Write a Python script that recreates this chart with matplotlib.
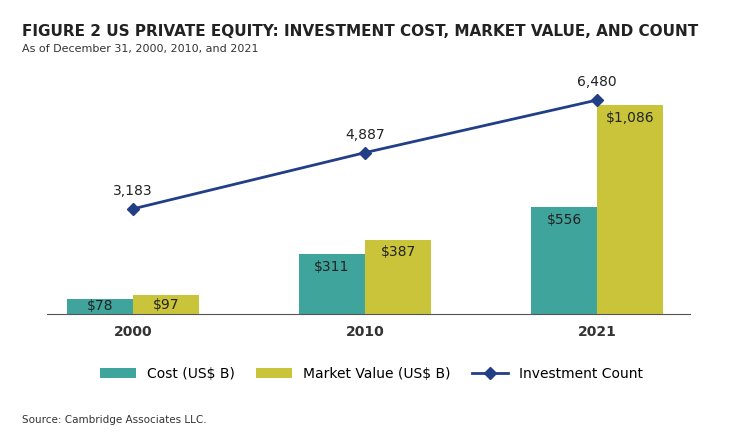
import numpy as np
import matplotlib.pyplot as plt

years = ['2000', '2010', '2021']
cost = [78, 311, 556]
market_value = [97, 387, 1086]
count = [3183, 4887, 6480]

teal = '#3fa59c'
olive = '#c9c43a'
navy = '#213e86'

fig = plt.figure(figsize=(7.43, 4.47), dpi=100)
ax = fig.add_axes([47/743, 1-314/447, (690-47)/743, (314-60)/447])
x = np.arange(len(years))
w = 0.285
ax.bar(x - w/2, cost, w, color=teal, label='Cost (US$ B)')
ax.bar(x + w/2, market_value, w, color=olive, label='Market Value (US$ B)')
ax.set_xlim(-0.37, 2.40)
ax.set_ylim(0, 1320)

def bar_label(xi, v):
    if v < 150:
        ax.text(xi, v / 2, f'${v:,}', ha='center', va='center', fontsize=10, color='#222222')
    else:
        ax.text(xi, v - 30, f'${v:,}', ha='center', va='top', fontsize=10, color='#222222')

for xi, c, m in zip(x, cost, market_value):
    bar_label(xi - w/2, c)
    bar_label(xi + w/2, m)
ax.set_xticks(x)
ax.set_xticklabels(years, fontsize=10, fontweight='bold', color='#333333')
ax.tick_params(axis='x', length=0, pad=8)
ax.set_yticks([])
for s in ['top', 'right', 'left']:
    ax.spines[s].set_visible(False)
ax.spines['bottom'].set_color('#555555')

ax2 = ax.twinx()
ax2.plot(x, count, color=navy, lw=2, marker='D', ms=6, label='Investment Count')
ax2.set_ylim(0, 7692)
ax2.set_yticks([])
for s in ['top', 'right', 'left', 'bottom']:
    ax2.spines[s].set_visible(False)
for xi, n in zip(x, count):
    ax2.text(xi, n + 320, f'{n:,}', ha='center', va='bottom', fontsize=10, color='#222222')

h1, l1 = ax.get_legend_handles_labels()
h2, l2 = ax2.get_legend_handles_labels()
fig.legend(h1 + h2, l1 + l2, loc='center', bbox_to_anchor=(0.5, 1-374/447), ncol=3,
           frameon=False, fontsize=10, handlelength=2.6, columnspacing=1.5)

fig.text(22/743, 1-31/447, 'FIGURE 2 US PRIVATE EQUITY: INVESTMENT COST, MARKET VALUE, AND COUNT',
         fontsize=11, fontweight='bold', color='#222222', va='center')
fig.text(22/743, 1-49/447, 'As of December 31, 2000, 2010, and 2021', fontsize=8, color='#333333', va='center')
fig.text(22/743, 1-420/447, 'Source: Cambridge Associates LLC.', fontsize=7.5, color='#333333', va='center')

fig.savefig('out.png', dpi=100)
